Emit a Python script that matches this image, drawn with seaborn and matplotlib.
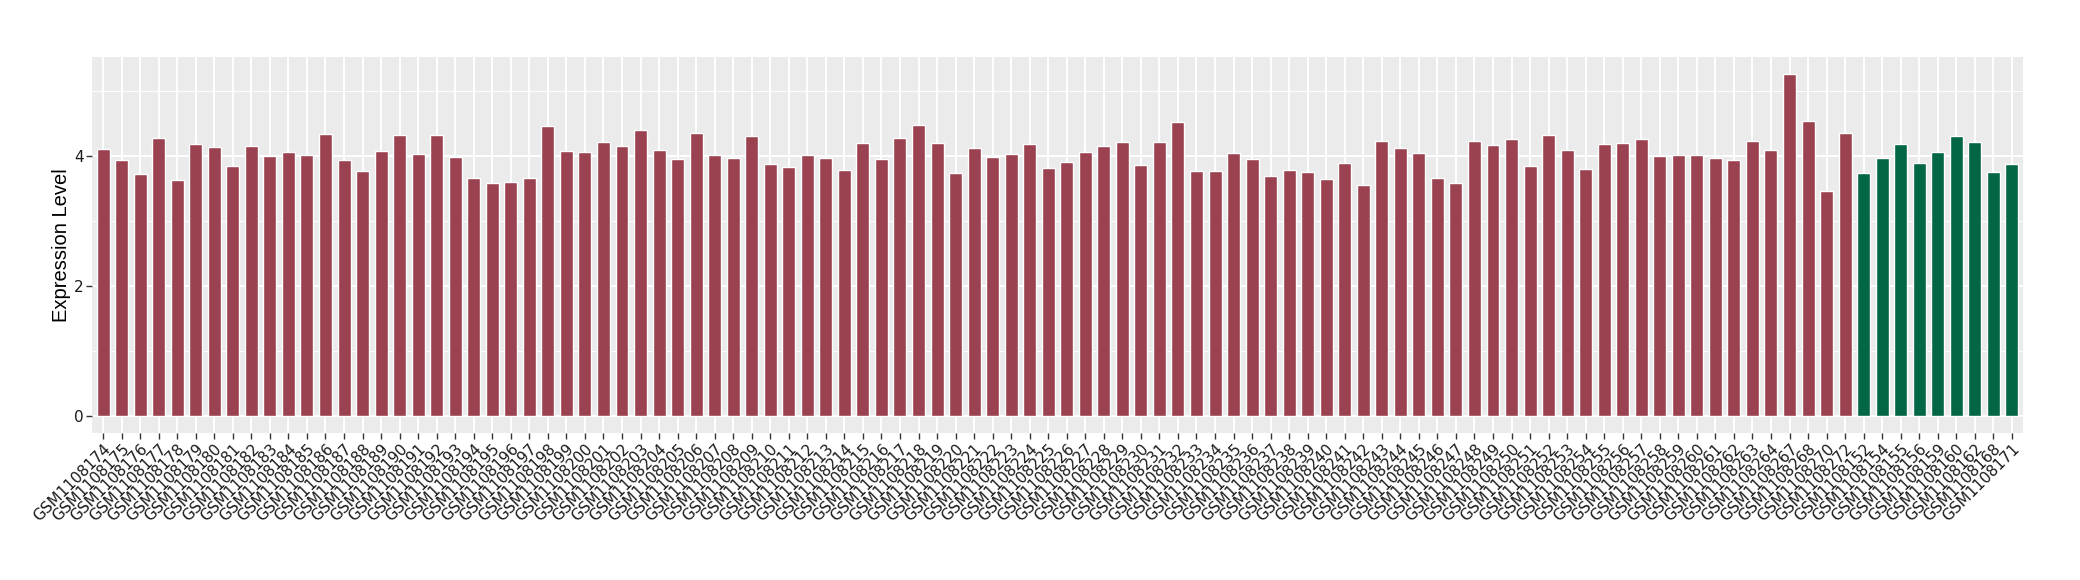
import matplotlib
matplotlib.use("Agg")
import matplotlib.pyplot as plt
import seaborn as sns
import pandas as pd
import numpy as np
from matplotlib.ticker import MultipleLocator

red_samples = [f"GSM1108{n}" for n in range(174, 265)] + ["GSM1108267", "GSM1108268", "GSM1108270", "GSM1108272"]
green_samples = ["GSM1108152", "GSM1108154", "GSM1108155", "GSM1108156", "GSM1108159",
                 "GSM1108160", "GSM1108162", "GSM1108168", "GSM1108171"]

red_values = [
    4.11, 3.94, 3.72, 4.28, 3.63, 4.18, 4.14, 3.85, 4.15, 4.00,
    4.06, 4.02, 4.34, 3.94, 3.77, 4.08, 4.32, 4.03, 4.32, 3.98,
    3.66, 3.58, 3.60, 3.66, 4.46, 4.08, 4.06, 4.22, 4.15, 4.40,
    4.09, 3.95, 4.35, 4.02, 3.97, 4.31, 3.88, 3.83, 4.02, 3.97,
    3.78, 4.20, 3.95, 4.28, 4.48, 4.20, 3.74, 4.12, 3.98, 4.03,
    4.18, 3.82, 3.91, 4.06, 4.15, 4.22, 3.86, 4.22, 4.52, 3.77,
    3.77, 4.05, 3.95, 3.69, 3.78, 3.75, 3.65, 3.89, 3.55, 4.23,
    4.12, 4.05, 3.66, 3.58, 4.23, 4.17, 4.26, 3.85, 4.32, 4.09,
    3.80, 4.18, 4.20, 4.26, 4.00, 4.02, 4.02, 3.97, 3.94, 4.23,
    4.09, 5.26, 4.54, 3.46, 4.35,
]
green_values = [3.74, 3.97, 4.18, 3.89, 4.06, 4.31, 4.22, 3.75, 3.88]

group_names = ["Group A", "Group B"]
group_colors = ["#9B4251", "#036644"]

df = pd.DataFrame({
    "sample": red_samples + green_samples,
    "value": red_values + green_values,
    "group": [group_names[0]] * len(red_samples) + [group_names[1]] * len(green_samples),
})

sns.set_theme(style="darkgrid")
plt.rcParams["font.family"] = ["DejaVu Sans"]

fig = plt.figure(figsize=(20.8, 5.8), dpi=100)
ax = fig.add_axes([92 / 2080, 1 - 433 / 580, (2023 - 92) / 2080, (433 - 57) / 580])
ax.set_facecolor("#EBEBEB")

sns.barplot(data=df, x="sample", y="value", hue="group",
            palette=dict(zip(group_names, group_colors)),
            dodge=False, width=0.7, legend=False, ax=ax,
            order=df["sample"].tolist(), saturation=1, zorder=3)

n = len(df)
ymax = max(df["value"])
pad = 0.05 * ymax
ax.set_xlim(-0.6, n - 1 + 0.6)
ax.set_ylim(-pad, ymax + pad)

ax.yaxis.set_major_locator(MultipleLocator(2))
ax.yaxis.set_minor_locator(MultipleLocator(1))
ax.grid(False)
ax.grid(which="major", axis="both", color="white", linewidth=1.4, zorder=0)
ax.grid(which="minor", axis="y", color="white", linewidth=0.7, zorder=0)
ax.set_axisbelow(True)
for s in ax.spines.values():
    s.set_visible(False)

ax.tick_params(axis="both", which="major", length=4, width=1, color="#333333",
               labelsize=11, labelcolor="#1A1A1A", pad=2, bottom=True, left=True)
ax.tick_params(axis="y", which="minor", length=0)
ax.set_yticks([0, 2, 4])
ax.set_yticklabels(["0", "2", "4"])
for lab in ax.get_xticklabels():
    lab.set_rotation(45)
    lab.set_ha("right")
    lab.set_va("top")
    lab.set_rotation_mode("anchor")

ax.set_xlabel("")
ax.set_ylabel("Expression Level", fontsize=14.5, color="black",
              family=["Liberation Sans", "DejaVu Sans"], labelpad=2)

fig.savefig("out.png", dpi=100, facecolor="white")
